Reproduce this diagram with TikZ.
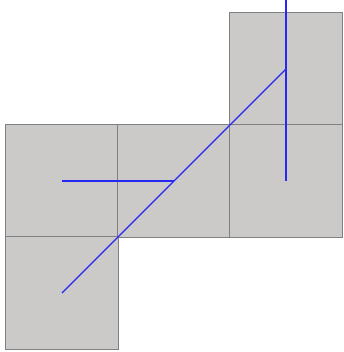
\documentclass[tikz,border=0pt]{standalone}
\definecolor{cellfill}{RGB}{204,202,201}
\definecolor{celledge}{RGB}{128,128,128}
\definecolor{pathblue}{RGB}{40,40,245}
\begin{document}
\begin{tikzpicture}[x=1pt,y=-1pt,
  cell/.style={draw=celledge,fill=cellfill,line width=0.9pt,minimum size=112.3pt,inner sep=0pt,outer sep=0pt,rectangle},
  link/.style={draw=pathblue,line width=1.1pt}]
\useasboundingbox (0,0) rectangle (344,352);
\node[cell] (tr) at (286,69) {};
\node[cell] (ml) at (62,181) {};
\node[cell] (mm) at (174,181) {};
\node[cell] (mr) at (286,181) {};
\node[cell] (bl) at (62,293) {};
\coordinate (top) at (286,0);
\draw[link] (bl.center) -- (tr.center);
\draw[link] (ml.center) -- (mm.center);
\draw[link] (mr.center) -- (top);
\end{tikzpicture}
\end{document}
